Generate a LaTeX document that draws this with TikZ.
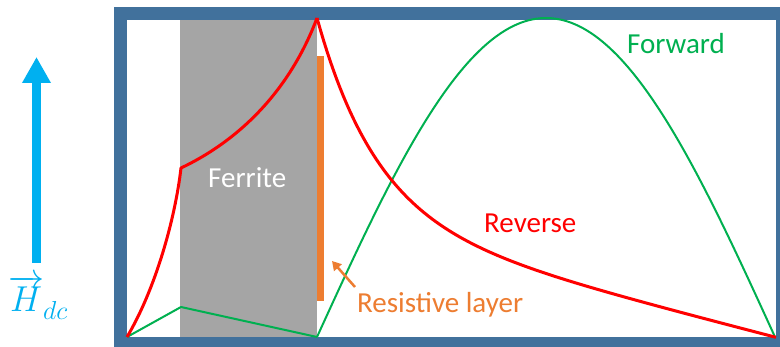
\RequirePackage{fix-cm}
\documentclass[tikz,border=0pt]{standalone}
\usepackage{fontspec}
\setmainfont{Carlito}
\usetikzlibrary{arrows.meta}
\definecolor{frameblue}{HTML}{41719C}
\definecolor{ferritegray}{HTML}{A5A5A5}
\definecolor{resorange}{HTML}{ED7D31}
\definecolor{fwdgreen}{HTML}{00B050}
\definecolor{revred}{HTML}{FF0000}
\definecolor{hcyan}{HTML}{00B0F0}
\tikzset{
  lbl/.style={anchor=base west, inner sep=0pt, font=\fontsize{29}{34}\selectfont},
}
\begin{document}
\begin{tikzpicture}[x=1pt,y=-1pt]
\useasboundingbox (0,0) rectangle (780,347);
\fill[white] (0,0) rectangle (780,347);
% frame
\fill[frameblue] (114,7) rectangle (780,347);
\fill[white] (127,20) rectangle (776,337);
% ferrite
\fill[ferritegray] (180,20) rectangle (317,337);
% resistive layer bar
\fill[resorange] (317,56) rectangle (324,301);
% key points
\coordinate (o) at (127,337);
\coordinate (k) at (181,168);
\coordinate (p) at (317,18);
\coordinate (g1) at (181,307);
\coordinate (g2) at (317,337);
\coordinate (e) at (776,338);
% forward (green)
\draw[fwdgreen, line width=2pt, line join=round] (o) -- (g1) -- (g2);
\draw[fwdgreen, line width=2pt, domain=317:775, samples=120, variable=\x]
  plot (\x, {337-319*sin(0.393013*(\x-317))});
% reverse (red)
\draw[revred, line width=3pt, line join=round]
  (o) .. controls (155,290) and (175,220) .. (k)
      .. controls (240,140) and (290,90) .. (p);
\draw[revred, line width=3pt, line join=round, domain=317:776, samples=140, variable=\x]
  plot (\x, {18+320*(0.627*(1-exp(-(\x-317)/60))+0.000812*(\x-317))});
% labels
\node[lbl, text=white] (ferrite) at (208,188) {Ferrite};
\node[lbl, text=fwdgreen] (forward) at (627,54) {Forward};
\node[lbl, text=revred] (reverse) at (484,233) {Reverse};
\node[lbl, text=resorange] (reslayer) at (357,313) {Resistive layer};
% resistive arrow
\coordinate (rt) at (355,287);
\coordinate (rh) at (332,261);
\draw[resorange, line width=2.5pt, -{Triangle[length=9pt,width=10pt]}] (rt) -- (rh);
% H_dc arrow
\coordinate (ha) at (36.5,263);
\coordinate (hb) at (36.5,57);
\draw[hcyan, line width=9pt, -{Triangle[length=26pt,width=27pt]}] (ha) -- (hb);
\node[anchor=base west, inner sep=0pt, text=hcyan] (hdc) at (8,312)
  {{\fontsize{36}{40}\selectfont$\overrightarrow{H}$}\kern-1pt\raisebox{-8pt}{\fontsize{26}{30}\selectfont$dc$}};
\end{tikzpicture}
\end{document}
